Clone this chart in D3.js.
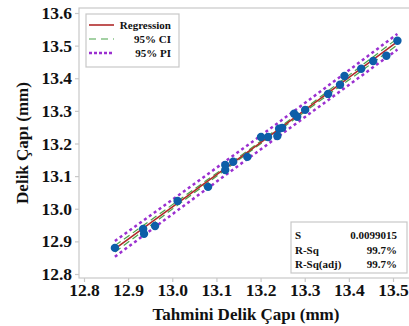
<!DOCTYPE html>
<html lang="tr">
  <head>
    <meta charset="utf-8" />
    <script src="https://d3js.org/d3.v7.min.js"></script>
    <style>
      body {
        margin: 0;
        background-color: #fff;
      }
    </style>
  </head>
  <body>
    <div id="chart"></div>

    <script>
      const width = 409;
      const height = 326;
      const serif = "'Liberation Serif', 'Times New Roman', serif";

      // observed points: predicted diameter (x) vs measured diameter (y)
      const predicted = [
        12.87, 12.934, 12.936, 12.961, 13.012, 13.081, 13.12, 13.12, 13.138,
        13.17, 13.201, 13.217, 13.238, 13.242, 13.249, 13.276, 13.283, 13.301,
        13.353, 13.38, 13.39, 13.428, 13.455, 13.485, 13.51
      ];
      const measured = [
        12.88, 12.938, 12.923, 12.947, 13.024, 13.067, 13.134, 13.119, 13.144,
        13.159, 13.22, 13.22, 13.223, 13.245, 13.248, 13.291, 13.282, 13.303,
        13.352, 13.38, 13.407, 13.429, 13.453, 13.469, 13.515
      ];

      // fitted line and band half-widths
      const bandX = [12.87, 13.03, 13.19, 13.35, 13.51];
      const fitY = [12.877, 13.035, 13.193, 13.352, 13.512];
      const ciHalf = [0.01, 0.006, 0.004, 0.006, 0.01];
      const piHalf = [0.024, 0.022, 0.021, 0.022, 0.024];

      const xTicks = [12.8, 12.9, 13.0, 13.1, 13.2, 13.3, 13.4, 13.5];
      const yTicks = [12.8, 12.9, 13.0, 13.1, 13.2, 13.3, 13.4, 13.5, 13.6];

      const legendItems = ["Regression", "95% CI", "95% PI"];
      const statNames = ["S", "R-Sq", "R-Sq(adj)"];
      const statValues = ["0.0099015", "99.7%", "99.7%"];

      const frame = { left: 79, top: 8, right: 412, bottom: 278 };

      const svg = d3
        .select("#chart")
        .append("svg")
        .attr("width", width)
        .attr("height", height);

      const x = d3.scaleLinear().domain([12.8, 13.5]).range([84, 393]);
      const y = d3.scaleLinear().domain([12.8, 13.6]).range([274, 13]);

      function label(sel, size) {
        return sel
          .style("font-family", serif)
          .style("font-weight", "bold")
          .style("font-size", size + "px")
          .style("fill", "#111");
      }

      // plot frame
      svg
        .append("rect")
        .attr("x", frame.left)
        .attr("y", frame.top)
        .attr("width", frame.right - frame.left)
        .attr("height", frame.bottom - frame.top)
        .attr("fill", "none")
        .attr("stroke", "#c8c8c8")
        .attr("stroke-width", 1.2);

      // axes
      const xAxis = svg
        .append("g")
        .attr("transform", `translate(0,${frame.bottom})`)
        .call(
          d3.axisBottom(x).tickValues(xTicks).tickSize(4).tickPadding(2)
            .tickFormat(d3.format(".1f"))
        );
      const yAxis = svg
        .append("g")
        .attr("transform", `translate(${frame.left},0)`)
        .call(
          d3.axisLeft(y).tickValues(yTicks).tickSize(4).tickPadding(3)
            .tickFormat(d3.format(".1f"))
        );
      [xAxis, yAxis].forEach((g) => {
        g.select(".domain").remove();
        g.selectAll(".tick line").attr("stroke", "#c8c8c8").attr("stroke-width", 1.2);
        label(g.selectAll(".tick text"), 17.5);
      });

      // axis titles
      label(
        svg
          .append("text")
          .attr("x", 246)
          .attr("y", 320)
          .attr("text-anchor", "middle")
          .text("Tahmini Delik Çapı (mm)"),
        17
      );
      label(
        svg
          .append("text")
          .attr("transform", "translate(28,143) rotate(-90)")
          .attr("text-anchor", "middle")
          .text("Delik Çapı (mm)"),
        17
      );

      const band = bandX.map((v, i) => ({
        x: v,
        fit: fitY[i],
        ciLo: fitY[i] - ciHalf[i],
        ciHi: fitY[i] + ciHalf[i],
        piLo: fitY[i] - piHalf[i],
        piHi: fitY[i] + piHalf[i]
      }));

      const lineFor = (key) =>
        d3
          .line()
          .x((d) => x(d.x))
          .y((d) => y(d[key]))
          .curve(d3.curveNatural);

      ["piLo", "piHi"].forEach((k) => {
        svg
          .append("path")
          .datum(band)
          .attr("d", lineFor(k))
          .attr("fill", "none")
          .attr("stroke", "#9b30d0")
          .attr("stroke-width", 2.5)
          .attr("stroke-dasharray", "3,3");
      });
      ["ciLo", "ciHi"].forEach((k) => {
        svg
          .append("path")
          .datum(band)
          .attr("d", lineFor(k))
          .attr("fill", "none")
          .attr("stroke", "#4aa34a")
          .attr("stroke-width", 1.2)
          .attr("stroke-dasharray", "7,4");
      });
      svg
        .append("path")
        .datum(band)
        .attr("d", lineFor("fit"))
        .attr("fill", "none")
        .attr("stroke", "#b02a2a")
        .attr("stroke-width", 1.6);

      // points
      svg
        .append("g")
        .selectAll("circle")
        .data(predicted.map((v, i) => [v, measured[i]]))
        .join("circle")
        .attr("cx", (d) => x(d[0]))
        .attr("cy", (d) => y(d[1]))
        .attr("r", 4.2)
        .attr("fill", "#0d5ea8");

      // legend
      const legend = svg.append("g");
      legend
        .append("rect")
        .attr("x", 86)
        .attr("y", 14)
        .attr("width", 93)
        .attr("height", 53)
        .attr("fill", "#fff")
        .attr("stroke", "#c8c8c8")
        .attr("stroke-width", 1.2);
      const legendStyles = [
        { color: "#b02a2a", w: 1.6, dash: null },
        { color: "#4aa34a", w: 1.2, dash: "7,5" },
        { color: "#9b30d0", w: 2.5, dash: "3,2" }
      ];
      legendItems.forEach((name, i) => {
        const ly = 25 + i * 14;
        legend
          .append("line")
          .attr("x1", 89)
          .attr("x2", 114)
          .attr("y1", ly)
          .attr("y2", ly)
          .attr("stroke", legendStyles[i].color)
          .attr("stroke-width", legendStyles[i].w)
          .attr("stroke-dasharray", legendStyles[i].dash);
        label(
          legend
            .append("text")
            .attr("x", 171)
            .attr("y", ly + 4)
            .attr("text-anchor", "end")
            .text(name),
          11
        );
      });

      // stats box
      const stats = svg.append("g");
      stats
        .append("rect")
        .attr("x", 291)
        .attr("y", 222)
        .attr("width", 116)
        .attr("height", 51)
        .attr("fill", "#fff")
        .attr("stroke", "#c8c8c8")
        .attr("stroke-width", 1.2);
      statNames.forEach((name, i) => {
        const sy = 239 + i * 14.5;
        label(stats.append("text").attr("x", 295).attr("y", sy).text(name), 11);
        label(
          stats
            .append("text")
            .attr("x", 397)
            .attr("y", sy)
            .attr("text-anchor", "end")
            .text(statValues[i]),
          11
        );
      });
    </script>
  </body>
</html>
